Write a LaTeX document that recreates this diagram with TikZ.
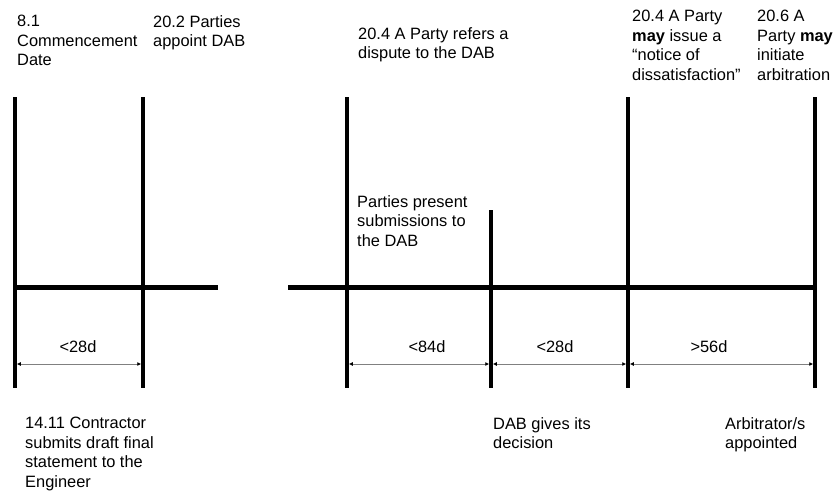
\documentclass[tikz,border=0pt]{standalone}
\usepackage{fontspec}
\setmainfont{Liberation Sans}
\usetikzlibrary{arrows.meta}
\tikzset{
    vline/.style = {line width=3.5pt, black},
    hline/.style = {line width=5pt, black},
    dimline/.style = {line width=0.8pt, gray, shorten >=1.75pt, shorten <=1.75pt,
        {Latex[length=4pt,width=4pt,color=black]}-{Latex[length=4pt,width=4pt,color=black]}},
    lbl/.style = {anchor=north west, inner sep=0, align=left, font=\fontsize{16.4}{19.5}\selectfont},
    dimlbl/.style = {inner sep=0, font=\fontsize{16.4}{19.5}\selectfont}
}

\begin{document}
\begin{tikzpicture}[x=1pt, y=-1pt]
\useasboundingbox (0,0) rectangle (837,493);

% time marks
\coordinate (t1) at ( 15, 97);  \coordinate (b1) at ( 15,388);
\coordinate (t2) at (143, 97);  \coordinate (b2) at (143,388);
\coordinate (t3) at (347, 97);  \coordinate (b3) at (347,388);
\coordinate (t4) at (491,210);  \coordinate (b4) at (491,388);
\coordinate (t5) at (628, 97);  \coordinate (b5) at (628,388);
\coordinate (t6) at (815, 97);  \coordinate (b6) at (815,388);

\draw[vline] (t1) -- (b1);
\draw[vline] (t2) -- (b2);
\draw[vline] (t3) -- (b3);
\draw[vline] (t4) -- (b4);
\draw[vline] (t5) -- (b5);
\draw[vline] (t6) -- (b6);

% time axis
\coordinate (axl1) at (13.25,287); \coordinate (axr1) at (218,287);
\coordinate (axl2) at (288,287);   \coordinate (axr2) at (816.75,287);
\draw[hline] (axl1) -- (axr1);
\draw[hline] (axl2) -- (axr2);

% durations
\coordinate (d1) at ( 15,364);
\coordinate (d2) at (143,364);
\coordinate (d3) at (347,364);
\coordinate (d4) at (491,364);
\coordinate (d5) at (628,364);
\coordinate (d6) at (815,364);
\draw[dimline] (d1) -- (d2);
\draw[dimline] (d3) -- (d4);
\draw[dimline] (d4) -- (d5);
\draw[dimline] (d5) -- (d6);
\node[dimlbl] (w1) at ( 78,347) {<28d};
\node[dimlbl] (w2) at (427,347) {<84d};
\node[dimlbl] (w3) at (555,347) {<28d};
\node[dimlbl] (w4) at (709,347) {>56d};

% events
\node[lbl] (lcomm)    at ( 17, 15) {8.1\\Commencement\\Date};
\node[lbl] (lappoint) at (153, 15) {20.2 Parties\\appoint DAB};
\node[lbl] (lrefer)   at (358, 27) {20.4 A Party refers a\\dispute to the DAB};
\node[lbl] (lnotice)  at (632, 10) {20.4 A Party\\\textbf{may} issue a\\“notice of\\dissatisfaction”};
\node[lbl] (larbitr)  at (757, 10) {20.6 A\\Party \textbf{may}\\initiate\\arbitration};
\node[lbl] (lpresent) at (357,195) {Parties present\\submissions to\\the DAB};
\node[lbl] (lsubmit)  at ( 25,417) {14.11 Contractor\\submits draft final\\statement to the\\Engineer};
\node[lbl] (ldecision) at (493,417) {DAB gives its\\decision};
\node[lbl] (lappointed) at (725,417) {Arbitrator/s\\appointed};

\end{tikzpicture}
\end{document}
